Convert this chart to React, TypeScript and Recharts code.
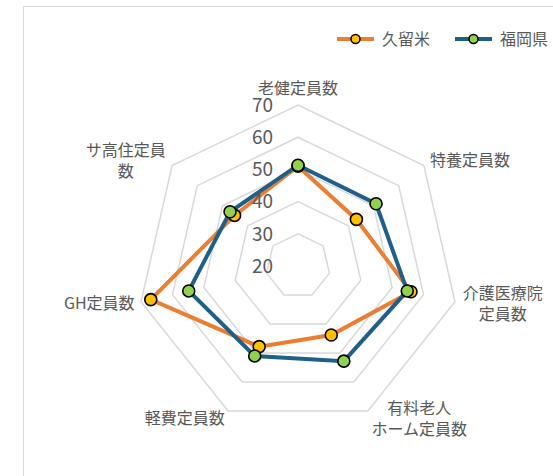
import React from 'react';
import { RadarChart, Radar, PolarGrid, PolarAngleAxis, PolarRadiusAxis } from 'recharts';

// categories (line breaks follow the original label wrapping)
const categories = [
  '老健定員数',
  '特養定員数',
  '介護医療院\n定員数',
  '有料老人\nホーム定員数',
  '軽費定員数',
  'GH定員数',
  'サ高住定員\n数',
];
const kurume = [51, 43.2, 56, 43.8, 47.8, 66.9, 45.2];
const fukuoka = [51.3, 51, 54.8, 52.8, 51, 54.8, 47];
const radiusTicks = [20, 30, 40, 50, 60, 70];

const series = [
  { key: '久留米', values: kurume, line: '#ED7D31', dot: '#FFC000' },
  { key: '福岡県', values: fukuoka, line: '#1F6088', dot: '#92D050' },
];

const CX = 298;
const CY = 266;
const FONT = '"Noto Sans CJK JP", "Noto Sans", sans-serif';
const TEXT = '#595959';

const chartData = categories.map((name, i) => {
  const row: Record<string, string | number> = { name };
  series.forEach((s) => {
    row[s.key] = s.values[i];
  });
  return row;
});

const textWidth = (s: string) =>
  s.split('').reduce((w, ch) => w + (ch.charCodeAt(0) < 256 ? 10 : 16), 0);

function AngleTick(props: any) {
  const { x, y, payload } = props;
  const lines = String(payload.value).split('\n');
  const w = Math.max(...lines.map(textWidth));
  const dx = x - CX;
  const lh = 21;
  let center = x;
  if (dx > 4) center = x + w / 2;
  else if (dx < -4) center = x - w / 2;
  const first =
    Math.abs(dx) <= 4 ? y - 9 - (lines.length - 1) * lh : y - ((lines.length - 1) * lh) / 2;
  return (
    <text textAnchor="middle" fill={TEXT} fontSize={16} fontFamily={FONT}>
      {lines.map((l, i) => (
        <tspan key={i} x={center} y={first + i * lh} dy="0.36em">
          {l}
        </tspan>
      ))}
    </text>
  );
}

function RadiusTick(props: any) {
  const { x, y, payload } = props;
  return (
    <text x={x - 25} y={y} dy="0.36em" textAnchor="end" fill={TEXT} fontSize={19} fontFamily={FONT}>
      {payload.value}
    </text>
  );
}

export default function App() {
  return (
    <div
      style={{
        position: 'absolute',
        left: 0,
        top: 0,
        width: 553,
        height: 476,
        overflow: 'hidden',
        background: '#fff',
      }}
    >
      <div
        style={{
          position: 'absolute',
          left: 23,
          top: 6,
          width: 600,
          height: 520,
          border: '1px solid #d9d9d9',
        }}
      />
      <div style={{ position: 'absolute', left: 0, top: 0 }}>
        <RadarChart
          width={553}
          height={476}
          data={chartData}
          cx={CX}
          cy={CY}
          outerRadius={161}
          margin={{ top: 0, right: 0, bottom: 0, left: 0 }}
        >
          <PolarGrid gridType="polygon" radialLines={false} stroke="#d9d9d9" strokeWidth={1.5} />
          <PolarAngleAxis dataKey="name" tick={<AngleTick />} tickLine={false} axisLine={false} />
          <PolarRadiusAxis
            angle={90}
            type="number"
            domain={[20, 70]}
            ticks={radiusTicks}
            tick={<RadiusTick />}
            axisLine={false}
            tickLine={false}
          />
          {series.map((s) => (
            <Radar
              key={s.key}
              dataKey={s.key}
              stroke={s.line}
              strokeWidth={4}
              fill="none"
              fillOpacity={0}
              dot={{ r: 6, fill: s.dot, stroke: '#000', strokeWidth: 1.6, fillOpacity: 1 }}
              isAnimationActive={false}
            />
          ))}
        </RadarChart>
      </div>
      {/* legend */}
      <svg width={553} height={60} style={{ position: 'absolute', left: 0, top: 0 }}>
        {series.map((s, i) => {
          const x0 = i === 0 ? 337 : 455;
          return (
            <g key={s.key}>
              <line x1={x0} x2={x0 + 37} y1={39} y2={39} stroke={s.line} strokeWidth={4} />
              <circle cx={x0 + 18.5} cy={39} r={4.5} fill={s.dot} stroke="#000" strokeWidth={1.5} />
              <text x={x0 + 45} y={39} dy="0.36em" fill={TEXT} fontSize={16} fontFamily={FONT}>
                {s.key}
              </text>
            </g>
          );
        })}
      </svg>
    </div>
  );
}
